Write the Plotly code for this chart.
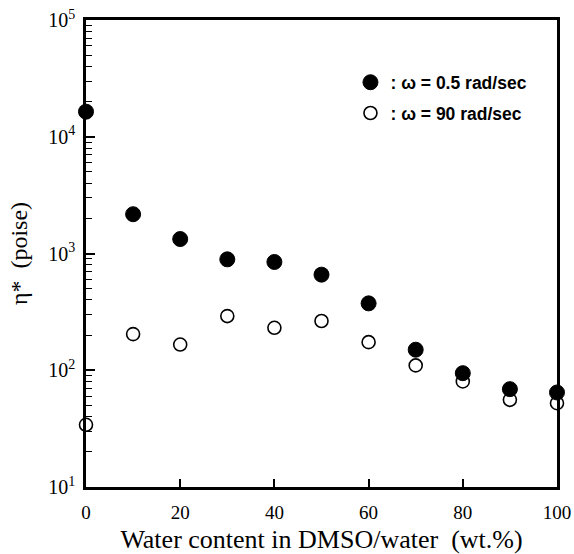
import plotly.graph_objects as go

water = [0, 10, 20, 30, 40, 50, 60, 70, 80, 90, 100]
eta_low = [16400, 2170, 1330, 891, 846, 659, 374, 150, 94.4, 68.9, 64.5]
eta_high = [34.1, 204, 166, 291, 231, 264, 174, 110, 80.2, 55.8, 52.2]

x_ticks = [0, 20, 40, 60, 80, 100]
y_major = [10, 100, 1000, 10000, 100000]
y_major_text = ["10<sup>1</sup>", "10<sup>2</sup>", "10<sup>3</sup>", "10<sup>4</sup>", "10<sup>5</sup>"]
y_minor = [m * d for d in [10, 100, 1000, 10000] for m in range(2, 10)]

serif = "Liberation Serif, Times New Roman, serif"
sans = "Liberation Sans, Arial, sans-serif"

fig = go.Figure()
fig.add_trace(go.Scatter(
    x=water, y=eta_low, mode="markers", name=": \u03c9 = 0.5 rad/sec",
    legendgroup="a",
    marker=dict(symbol="circle", size=15, color="black", line=dict(color="black", width=1)),
    cliponaxis=False,
))
fig.add_trace(go.Scatter(
    x=water, y=eta_high, mode="markers", name=": \u03c9 = 90 rad/sec",
    legendgroup="b",
    marker=dict(symbol="circle-open", size=13, color="black", line=dict(color="black", width=1.6)),
    cliponaxis=False,
))

fig.update_layout(
    width=574, height=554,
    margin=dict(l=86, r=17, t=20, b=67, autoexpand=False),
    paper_bgcolor="white", plot_bgcolor="white",
    showlegend=True,
    legend=dict(
        x=0.5615, y=0.905, xanchor="left", yanchor="top",
        font=dict(family=sans, size=17.5, color="black", weight="bold"),
        bgcolor="rgba(0,0,0,0)", borderwidth=0,
        traceorder="grouped", tracegroupgap=5,
        itemsizing="trace",
    ),
    xaxis=dict(
        range=[0, 100], tickvals=x_ticks, ticks="inside", ticklen=8, tickwidth=1.5,
        tickcolor="black", showline=True, linecolor="black", linewidth=2.5, mirror=True,
        showgrid=False, zeroline=False, automargin=False, ticklabelstandoff=6,
        tickfont=dict(family=serif, size=19, color="black"),
        title=dict(text="Water content in DMSO/water\u00a0\u00a0(wt.%)",
                   font=dict(family=serif, size=26, color="black"), standoff=9),
    ),
    yaxis=dict(
        type="log", range=[1, 5], tickvals=y_major, ticktext=y_major_text,
        ticks="inside", ticklen=9, tickwidth=1.5, tickcolor="black",
        minor=dict(tickmode="array", tickvals=y_minor, ticks="inside", ticklen=6,
                   tickwidth=1.2, tickcolor="black", showgrid=False),
        showline=True, linecolor="black", linewidth=2.5, mirror=True,
        showgrid=False, zeroline=False, automargin=False, ticklabelstandoff=4,
        tickfont=dict(family=serif, size=20, color="black"),
        title=dict(text="\u03b7*\u00a0\u00a0(poise)",
                   font=dict(family=serif, size=24, color="black"), standoff=14),
    ),
)

fig.write_html("out.html")
